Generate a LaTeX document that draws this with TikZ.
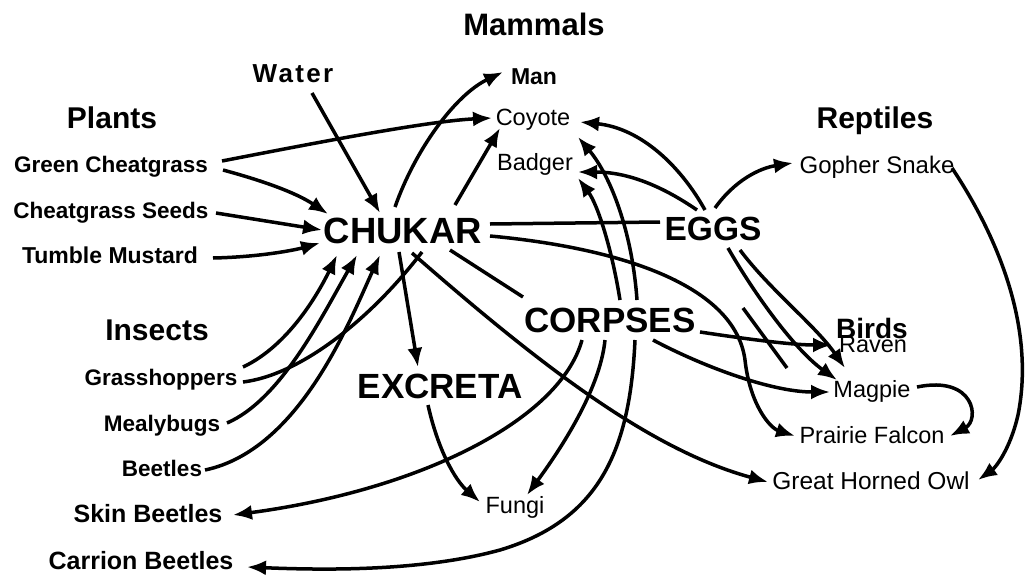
\documentclass[tikz,border=0pt]{standalone}
\usepackage{fontspec}
\setmainfont{Liberation Sans}
\usetikzlibrary{arrows.meta,calc}
\begin{document}
\begin{tikzpicture}[x=1pt,y=-1pt,
 every node/.style={inner sep=0pt,outer sep=0pt,text depth=0pt},
 hdr/.style={font=\bfseries\fontsize{30}{30}\selectfont,text height=21.5pt},
 big/.style={font=\bfseries\fontsize{35}{35}\selectfont,text height=25pt},
 lb/.style={font=\bfseries\fontsize{22.5}{22.5}\selectfont,text height=16.1pt},
 lbb/.style={font=\bfseries\fontsize{25}{25}\selectfont,text height=17.9pt},
 lr/.style={font=\fontsize{23.5}{23.5}\selectfont,text height=16.8pt},
 arr/.style={line width=3.5pt,-{Latex[length=19pt,width=15pt]}},
 ln/.style={line width=3.5pt}]
\useasboundingbox (0,0) rectangle (1034,579);
% nodes
\node[hdr,font=\bfseries\fontsize{31}{31}\selectfont] (mammals) at (534,25) {Mammals};
\node[lbb,font=\bfseries\fontsize{26}{26}\selectfont\addfontfeature{LetterSpace=9}] (water) at (293,74) {Water};
\node[lb,font=\bfseries\fontsize{23}{23}\selectfont] (man) at (534,76) {Man};
\node[hdr] (plants) at (112,118) {Plants};
\node[lr] (coyote) at (533,117) {Coyote};
\node[hdr] (reptiles) at (875,118) {Reptiles};
\node[lb] (greencg) at (111,164) {Green Cheatgrass};
\node[lr] (badger) at (535,162) {Badger};
\node[lr,font=\fontsize{24}{24}\selectfont] (gopher) at (877,165) {Gopher Snake};
\node[lb] (seeds) at (111,210) {Cheatgrass Seeds};
\node[big,font=\bfseries\fontsize{36.5}{36.5}\selectfont,text height=26pt] (chukar) at (403,230) {CHUKAR};
\node[big,font=\bfseries\fontsize{33.5}{33.5}\selectfont,text height=24pt] (eggs) at (713,228) {EGGS};
\node[lb,font=\bfseries\fontsize{23}{23}\selectfont] (tumble) at (110,255) {Tumble Mustard};
\node[hdr] (insects) at (157,330) {Insects};
\node[big] (corpses) at (610,320) {CORPSES};
\node[hdr,font=\bfseries\fontsize{28}{28}\selectfont,text height=20pt] (birds) at (872,328) {Birds};
\node[lr] (raven) at (873,344) {Raven};
\node[lb] (grass) at (161,377) {Grasshoppers};
\node[big] (excreta) at (440,386) {EXCRETA};
\node[lr] (magpie) at (872,389) {Magpie};
\node[lb] (mealy) at (162,423) {Mealybugs};
\node[lr] (falcon) at (872,435) {Prairie Falcon};
\node[lb] (beetles) at (162,468) {Beetles};
\node[lr,font=\fontsize{24.5}{24.5}\selectfont] (owl) at (871,481) {Great Horned Owl};
\node[lbb] (skin) at (148,514) {Skin Beetles};
\node[lr] (fungi) at (515,505) {Fungi};
\node[lbb] (carrion) at (141,561) {Carrion Beetles};
% connectors
\draw[arr] ($(water)+(19,19)$) -- ($(chukar)+(-23,-17)$);
\draw[arr] ($(greencg)+(111,-3)$) .. controls (330,140) and (430,121) .. ($(coyote)+(-41,1)$);
\draw[arr] ($(greencg)+(112,6)$) .. controls (260,180) and (295,192) .. ($(chukar)+(-75,-16)$);
\draw[arr] ($(seeds)+(105,3)$) -- ($(chukar)+(-81,0)$);
\draw[arr] ($(tumble)+(103,3)$) .. controls (260,257) and (295,250) .. ($(chukar)+(-83,13)$);
\draw[arr] ($(chukar)+(-8,-23)$) .. controls (415,150) and (455,95) .. ($(man)+(-31,-4)$);
\draw[arr] ($(chukar)+(52,-25)$) -- ($(coyote)+(-33,11)$);
\draw[ln] ($(chukar)+(87,-6)$) -- ($(eggs)+(-53,-6)$);
\draw[arr] ($(chukar)+(87,6)$) .. controls (620,248) and (735,285) .. (745,360) .. controls (750,405) and (770,428) .. ($(falcon)+(-77,1)$);
\draw[ln] ($(chukar)+(47,20)$) -- ($(corpses)+(-87,-23)$);
\draw[arr] ($(chukar)+(-4,22)$) -- ($(excreta)+(-22,-19)$);
\draw[arr] ($(chukar)+(9,23)$) .. controls (540,365) and (650,450) .. ($(owl)+(-103,1)$);
\draw[arr] ($(grass)+(82,-10)$) .. controls (290,345) and (320,290) .. ($(chukar)+(-66,25)$);
\draw[arr] ($(mealy)+(65,0)$) .. controls (280,400) and (320,320) .. ($(chukar)+(-46,25)$);
\draw[arr] ($(beetles)+(43,2)$) .. controls (300,450) and (350,320) .. ($(chukar)+(-23,25)$);
\draw[ln] ($(grass)+(82,5)$) .. controls (300,375) and (370,320) .. ($(chukar)+(19,22)$);
\draw[arr] ($(eggs)+(-8,-18)$) .. controls (680,165) and (640,128) .. ($(coyote)+(47,5)$);
\draw[arr] ($(eggs)+(-16,-18)$) .. controls (665,188) and (630,172) .. ($(badger)+(43,10)$);
\draw[arr] ($(corpses)+(27,-20)$) .. controls (632,230) and (610,175) .. ($(coyote)+(45,20)$);
\draw[arr] ($(corpses)+(10,-20)$) .. controls (612,250) and (598,205) .. ($(badger)+(43,16)$);
\draw[arr] ($(eggs)+(2,-20)$) .. controls (735,180) and (760,168) .. ($(gopher)+(-84,-2)$);
\draw[arr] ($(gopher)+(75,3)$) .. controls (1000,240) and (1035,330) .. (1018,415) .. controls (1010,450) and (995,468) .. ($(owl)+(107,-1)$);
\draw[arr] ($(eggs)+(27,22)$) .. controls (770,290) and (815,325) .. ($(raven)+(-28,24)$);
\draw[arr] ($(eggs)+(15,20)$) .. controls (755,295) and (795,350) .. ($(magpie)+(-35,-9)$);
\draw[ln] ($(eggs)+(30,80)$) -- ($(eggs)+(74,140)$);
\draw[arr] ($(corpses)+(90,12)$) .. controls (740,338) and (790,345) .. ($(raven)+(-41,1)$);
\draw[arr] ($(corpses)+(43,20)$) .. controls (700,365) and (770,392) .. ($(magpie)+(-42,3)$);
\draw[arr] ($(magpie)+(45,-2)$) .. controls (975,375) and (980,420) .. ($(falcon)+(78,1)$);
\draw[arr] ($(corpses)+(-28,20)$) .. controls (560,420) and (420,490) .. ($(skin)+(85,1)$);
\draw[arr] ($(corpses)+(-5,20)$) .. controls (600,390) and (560,450) .. ($(fungi)+(12,-10)$);
\draw[arr] ($(corpses)+(25,20)$) .. controls (630,450) and (600,520) .. (500,550) .. controls (420,572) and (320,570) .. ($(carrion)+(106,6)$);
\draw[arr] ($(excreta)+(-12,19)$) .. controls (438,450) and (455,480) .. ($(fungi)+(-35,-3)$);
\end{tikzpicture}
\end{document}
